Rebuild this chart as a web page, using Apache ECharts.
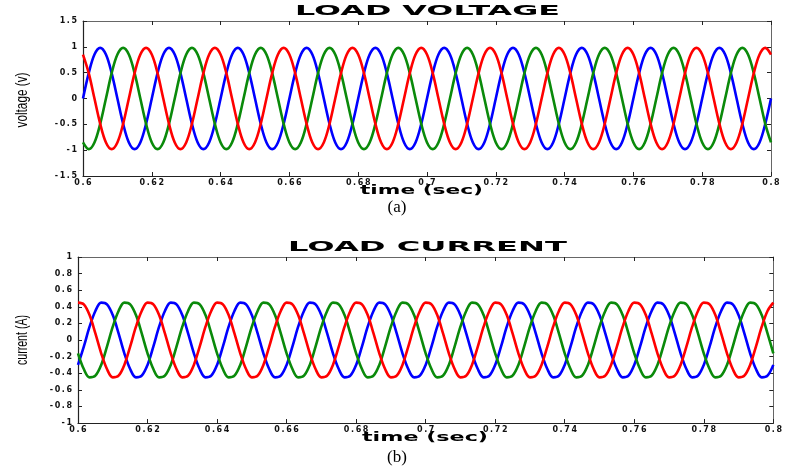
<!DOCTYPE html>
<html>
<head>
<meta charset="utf-8">
<script src="https://cdn.jsdelivr.net/npm/echarts@6/dist/echarts.min.js"></script>
<style>
html,body{margin:0;padding:0;background:#fff;}
#chart{width:785px;height:467px;}
</style>
</head>
<body>
<div id="chart"></div>
<script>
const sampleTimes = Array.from({length: 121}, (_, k) => +(0.6 + k / 600).toFixed(5));

const voltageBlue = [
  0, .49, .85, .98, .85, .49, 0, -.49, -.85, -.98, -.85, -.49,
  0, .49, .85, .98, .85, .49, 0, -.49, -.85, -.98, -.85, -.49,
  0, .49, .85, .98, .85, .49, 0, -.49, -.85, -.98, -.85, -.49,
  0, .49, .85, .98, .85, .49, 0, -.49, -.85, -.98, -.85, -.49,
  0, .49, .85, .98, .85, .49, 0, -.49, -.85, -.98, -.85, -.49,
  0, .49, .85, .98, .85, .49, 0, -.49, -.85, -.98, -.85, -.49,
  0, .49, .85, .98, .85, .49, 0, -.49, -.85, -.98, -.85, -.49,
  0, .49, .85, .98, .85, .49, 0, -.49, -.85, -.98, -.85, -.49,
  0, .49, .85, .98, .85, .49, 0, -.49, -.85, -.98, -.85, -.49,
  0, .49, .85, .98, .85, .49, 0, -.49, -.85, -.98, -.85, -.49,
  0
];
const voltageGreen = [
  -.85, -.98, -.85, -.49, 0, .49, .85, .98, .85, .49, 0, -.49,
  -.85, -.98, -.85, -.49, 0, .49, .85, .98, .85, .49, 0, -.49,
  -.85, -.98, -.85, -.49, 0, .49, .85, .98, .85, .49, 0, -.49,
  -.85, -.98, -.85, -.49, 0, .49, .85, .98, .85, .49, 0, -.49,
  -.85, -.98, -.85, -.49, 0, .49, .85, .98, .85, .49, 0, -.49,
  -.85, -.98, -.85, -.49, 0, .49, .85, .98, .85, .49, 0, -.49,
  -.85, -.98, -.85, -.49, 0, .49, .85, .98, .85, .49, 0, -.49,
  -.85, -.98, -.85, -.49, 0, .49, .85, .98, .85, .49, 0, -.49,
  -.85, -.98, -.85, -.49, 0, .49, .85, .98, .85, .49, 0, -.49,
  -.85, -.98, -.85, -.49, 0, .49, .85, .98, .85, .49, 0, -.49,
  -.85
];
const voltageRed = [
  .85, .49, 0, -.49, -.85, -.98, -.85, -.49, 0, .49, .85, .98,
  .85, .49, 0, -.49, -.85, -.98, -.85, -.49, 0, .49, .85, .98,
  .85, .49, 0, -.49, -.85, -.98, -.85, -.49, 0, .49, .85, .98,
  .85, .49, 0, -.49, -.85, -.98, -.85, -.49, 0, .49, .85, .98,
  .85, .49, 0, -.49, -.85, -.98, -.85, -.49, 0, .49, .85, .98,
  .85, .49, 0, -.49, -.85, -.98, -.85, -.49, 0, .49, .85, .98,
  .85, .49, 0, -.49, -.85, -.98, -.85, -.49, 0, .49, .85, .98,
  .85, .49, 0, -.49, -.85, -.98, -.85, -.49, 0, .49, .85, .98,
  .85, .49, 0, -.49, -.85, -.98, -.85, -.49, 0, .49, .85, .98,
  .85, .49, 0, -.49, -.85, -.98, -.85, -.49, 0, .49, .85, .98,
  .85
];

const currentBlue = [
  -.30, -.08, .16, .35, .45, .43, .30, .08, -.16, -.35, -.45, -.43,
  -.30, -.08, .16, .35, .45, .43, .30, .08, -.16, -.35, -.45, -.43,
  -.30, -.08, .16, .35, .45, .43, .30, .08, -.16, -.35, -.45, -.43,
  -.30, -.08, .16, .35, .45, .43, .30, .08, -.16, -.35, -.45, -.43,
  -.30, -.08, .16, .35, .45, .43, .30, .08, -.16, -.35, -.45, -.43,
  -.30, -.08, .16, .35, .45, .43, .30, .08, -.16, -.35, -.45, -.43,
  -.30, -.08, .16, .35, .45, .43, .30, .08, -.16, -.35, -.45, -.43,
  -.30, -.08, .16, .35, .45, .43, .30, .08, -.16, -.35, -.45, -.43,
  -.30, -.08, .16, .35, .45, .43, .30, .08, -.16, -.35, -.45, -.43,
  -.30, -.08, .16, .35, .45, .43, .30, .08, -.16, -.35, -.45, -.43,
  -.30
];
const currentGreen = [
  -.16, -.35, -.45, -.43, -.30, -.08, .16, .35, .45, .43, .30, .08,
  -.16, -.35, -.45, -.43, -.30, -.08, .16, .35, .45, .43, .30, .08,
  -.16, -.35, -.45, -.43, -.30, -.08, .16, .35, .45, .43, .30, .08,
  -.16, -.35, -.45, -.43, -.30, -.08, .16, .35, .45, .43, .30, .08,
  -.16, -.35, -.45, -.43, -.30, -.08, .16, .35, .45, .43, .30, .08,
  -.16, -.35, -.45, -.43, -.30, -.08, .16, .35, .45, .43, .30, .08,
  -.16, -.35, -.45, -.43, -.30, -.08, .16, .35, .45, .43, .30, .08,
  -.16, -.35, -.45, -.43, -.30, -.08, .16, .35, .45, .43, .30, .08,
  -.16, -.35, -.45, -.43, -.30, -.08, .16, .35, .45, .43, .30, .08,
  -.16, -.35, -.45, -.43, -.30, -.08, .16, .35, .45, .43, .30, .08,
  -.16
];
const currentRed = [
  .45, .43, .30, .08, -.16, -.35, -.45, -.43, -.30, -.08, .16, .35,
  .45, .43, .30, .08, -.16, -.35, -.45, -.43, -.30, -.08, .16, .35,
  .45, .43, .30, .08, -.16, -.35, -.45, -.43, -.30, -.08, .16, .35,
  .45, .43, .30, .08, -.16, -.35, -.45, -.43, -.30, -.08, .16, .35,
  .45, .43, .30, .08, -.16, -.35, -.45, -.43, -.30, -.08, .16, .35,
  .45, .43, .30, .08, -.16, -.35, -.45, -.43, -.30, -.08, .16, .35,
  .45, .43, .30, .08, -.16, -.35, -.45, -.43, -.30, -.08, .16, .35,
  .45, .43, .30, .08, -.16, -.35, -.45, -.43, -.30, -.08, .16, .35,
  .45, .43, .30, .08, -.16, -.35, -.45, -.43, -.30, -.08, .16, .35,
  .45, .43, .30, .08, -.16, -.35, -.45, -.43, -.30, -.08, .16, .35,
  .45
];

// Axis settings / texts
const timeRange = [0.6, 0.8];
const timeStep = 0.02;
const voltageRange = [-1.5, 1.5];
const voltageStep = 0.5;
const currentRange = [-1, 1];
const currentStep = 0.2;
const titles = ['LOAD VOLTAGE', 'LOAD CURRENT'];
const yNames = ['voltage (v)', 'current (A)'];
const xName = 'time (sec)';
const captions = ['(a)', '(b)'];

// ---- Rendering ----
const measureCtx = document.createElement('canvas').getContext('2d');
function textWidth(str, font) { measureCtx.font = font; return measureCtx.measureText(str).width; }
function fittedText(str, font, cx, cy, targetW, rotation) {
  const s = targetW / textWidth(str, font);
  return {
    type: 'text', x: cx, y: cy, rotation: rotation || 0, scaleX: s, scaleY: 1,
    silent: true,
    style: { text: str, font: font, fill: '#000',
      align: 'center', verticalAlign: 'middle',
      textAlign: 'center', textVerticalAlign: 'middle' }
  };
}
const tickFont = { fontFamily: 'DejaVu Sans', fontWeight: 'bold', fontSize: 8, color: '#111' };
const spaced = v => String(+v.toFixed(2)).split('').join('\u2009');

function xAxes(gridIndex) {
  const base = {
    gridIndex, type: 'value', min: timeRange[0], max: timeRange[1], interval: timeStep,
    splitLine: { show: false },
    axisTick: { show: true, inside: true, length: 4, lineStyle: { color: '#222' } }
  };
  return [
    Object.assign({}, base, { position: 'bottom',
      axisLine: { show: true, onZero: false, lineStyle: { color: '#222', width: 1.2 } },
      axisLabel: Object.assign({ margin: 3, formatter: spaced }, tickFont) }),
    Object.assign({}, base, { position: 'top',
      axisLine: { show: true, onZero: false, lineStyle: { color: '#666', width: 1 } },
      axisLabel: { show: false } })
  ];
}
function yAxes(gridIndex, range, step) {
  const base = {
    gridIndex, type: 'value', min: range[0], max: range[1], interval: step,
    splitLine: { show: false },
    axisTick: { show: true, inside: true, length: 4, lineStyle: { color: '#222' } }
  };
  return [
    Object.assign({}, base, { position: 'left',
      axisLine: { show: true, onZero: false, lineStyle: { color: '#222', width: 1.2 } },
      axisLabel: Object.assign({ margin: 6, formatter: spaced }, tickFont) }),
    Object.assign({}, base, { position: 'right',
      axisLine: { show: true, onZero: false, lineStyle: { color: '#666', width: 1 } },
      axisLabel: { show: false } })
  ];
}
function lineSeries(name, values, color, axisOffset) {
  return {
    name, type: 'line', xAxisIndex: axisOffset, yAxisIndex: axisOffset,
    data: values.map((v, k) => [sampleTimes[k], v]),
    showSymbol: false, smooth: 0.35, animation: false,
    lineStyle: { color, width: 2.6 }, itemStyle: { color }
  };
}

const chart = echarts.init(document.getElementById('chart'), null, { renderer: 'canvas' });
const titleFont = 'bold 14px "DejaVu Sans"';
const xNameFont = 'bold 13px "DejaVu Sans"';
const yNameFont = '17px "Liberation Sans"';
const capFont = '17px "Liberation Serif"';

chart.setOption({
  animation: false,
  backgroundColor: '#fff',
  grid: [
    { left: 83, top: 21, width: 688, height: 155 },
    { left: 78, top: 257, width: 701, height: 166 }
  ],
  xAxis: xAxes(0).concat(xAxes(1)),
  yAxis: yAxes(0, voltageRange, voltageStep).concat(yAxes(1, currentRange, currentStep)),
  series: [
    lineSeries('Va', voltageBlue, '#0000ff', 0),
    lineSeries('Vb', voltageGreen, '#0a8a0a', 0),
    lineSeries('Vc', voltageRed, '#ff0000', 0),
    lineSeries('Ia', currentBlue, '#0000ff', 2),
    lineSeries('Ib', currentGreen, '#0a8a0a', 2),
    lineSeries('Ic', currentRed, '#ff0000', 2)
  ],
  graphic: [
    fittedText(titles[0], titleFont, 427.5, 11, 265),
    fittedText(titles[1], titleFont, 427.5, 247.5, 279),
    fittedText(xName, xNameFont, 421.5, 191, 123),
    fittedText(xName, xNameFont, 425, 437.5, 126),
    fittedText(yNames[0], yNameFont, 22, 100, 55, Math.PI / 2),
    fittedText(yNames[1], yNameFont, 22, 340, 50, Math.PI / 2),
    { type: 'text', x: 397, y: 208, silent: true,
      style: { text: captions[0], font: capFont, fill: '#000', align: 'center', verticalAlign: 'middle', textAlign: 'center', textVerticalAlign: 'middle' } },
    { type: 'text', x: 397, y: 458, silent: true,
      style: { text: captions[1], font: capFont, fill: '#000', align: 'center', verticalAlign: 'middle', textAlign: 'center', textVerticalAlign: 'middle' } }
  ]
});
</script>
</body>
</html>
